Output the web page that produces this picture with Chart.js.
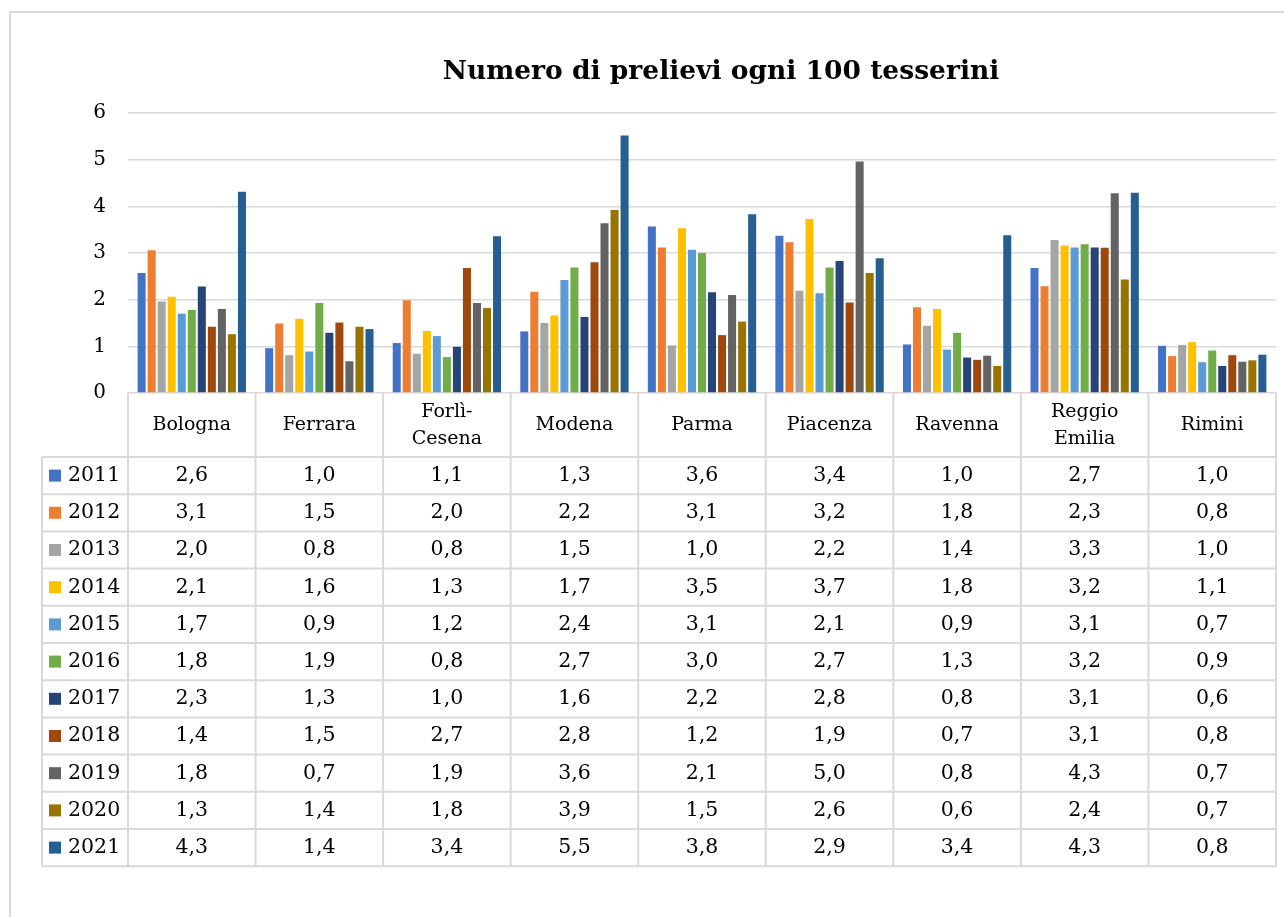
<!DOCTYPE html>
<html>
<head>
<meta charset="utf-8">
<script src="https://cdn.jsdelivr.net/npm/chart.js@4/dist/chart.umd.min.js"></script>
<style>
  html, body { margin: 0; padding: 0; background: #fff; overflow: hidden; }
  #wrap { position: relative; width: 1284px; height: 917px; }
</style>
</head>
<body>
<div id="wrap"><canvas id="chart" width="1284" height="917"></canvas></div>
<script>
const categories = ['Bologna', 'Ferrara', ['Forlì-', 'Cesena'], 'Modena', 'Parma', 'Piacenza', 'Ravenna', ['Reggio', 'Emilia'], 'Rimini'];
const years = ['2011', '2012', '2013', '2014', '2015', '2016', '2017', '2018', '2019', '2020', '2021'];
const colors = ['#4472C4', '#ED7D31', '#A5A5A5', '#FFC000', '#5B9BD5', '#70AD47', '#264478', '#9E480E', '#636363', '#997300', '#255E91'];
const yTicks = [0, 1, 2, 3, 4, 5, 6];

const v2011 = [2.57, 0.96, 1.07, 1.32, 3.57, 3.37, 1.04, 2.68, 1.01];
const v2012 = [3.06, 1.49, 1.99, 2.17, 3.12, 3.23, 1.84, 2.29, 0.79];
const v2013 = [1.96, 0.81, 0.84, 1.50, 1.02, 2.19, 1.44, 3.28, 1.03];
const v2014 = [2.06, 1.59, 1.33, 1.66, 3.53, 3.73, 1.80, 3.16, 1.09];
const v2015 = [1.70, 0.89, 1.22, 2.42, 3.07, 2.14, 0.93, 3.12, 0.66];
const v2016 = [1.78, 1.93, 0.77, 2.69, 3.00, 2.69, 1.29, 3.19, 0.91];
const v2017 = [2.28, 1.29, 0.99, 1.63, 2.16, 2.83, 0.76, 3.12, 0.58];
const v2018 = [1.42, 1.51, 2.68, 2.80, 1.24, 1.94, 0.71, 3.11, 0.81];
const v2019 = [1.80, 0.68, 1.93, 3.64, 2.10, 4.96, 0.80, 4.28, 0.67];
const v2020 = [1.26, 1.42, 1.82, 3.92, 1.53, 2.57, 0.58, 2.43, 0.70];
const v2021 = [4.31, 1.37, 3.36, 5.52, 3.83, 2.89, 3.38, 4.29, 0.82];

const series = [v2011, v2012, v2013, v2014, v2015, v2016, v2017, v2018, v2019, v2020, v2021];

const FONT = "'DejaVu Serif', serif";
const GRID = '#d9d9d9';

// frame, title and data table under the plot
const tablePlugin = {
    id: 'dataTable',
    afterDraw(chart) {
        const ctx = chart.ctx;
        const x = chart.scales.x;
        const area = chart.chartArea;
        const colW = (area.right - area.left) / categories.length;
        const headTop = area.bottom;
        const headBottom = 457;
        const rowH = 37.2;
        const tableBottom = headBottom + rowH * years.length;
        const leftX = 42;

        ctx.save();
        // outer frame
        ctx.strokeStyle = GRID;
        ctx.lineWidth = 2;
        ctx.strokeRect(10, 12, 1400, 1000);

        // title
        ctx.fillStyle = '#000';
        ctx.font = "bold 26.5px " + FONT;
        ctx.textAlign = 'center';
        ctx.textBaseline = 'middle';
        ctx.fillText('Numero di prelievi ogni 100 tesserini', 721, 72);

        // grid lines of the table
        ctx.strokeStyle = GRID;
        ctx.lineWidth = 2;
        ctx.beginPath();
        for (let i = 0; i <= categories.length; i++) {
            const cx = area.left + i * colW;
            ctx.moveTo(cx, headTop);
            ctx.lineTo(cx, tableBottom);
        }
        for (let r = 0; r <= years.length; r++) {
            const ry = headBottom + r * rowH;
            ctx.moveTo(leftX, ry);
            ctx.lineTo(area.right, ry);
        }
        ctx.moveTo(leftX, headBottom);
        ctx.lineTo(leftX, tableBottom);
        ctx.stroke();

        // header
        ctx.fillStyle = '#000';
        ctx.font = "19px " + FONT;
        categories.forEach((c, i) => {
            const cx = x.getPixelForValue(i);
            const mid = (headTop + headBottom) / 2;
            if (Array.isArray(c)) {
                ctx.fillText(c[0], cx, mid - 13);
                ctx.fillText(c[1], cx, mid + 14);
            } else {
                ctx.fillText(c, cx, mid);
            }
        });

        // rows
        ctx.font = "20.5px " + FONT;
        years.forEach((yr, r) => {
            const cy = headBottom + r * rowH + rowH / 2;
            ctx.fillStyle = colors[r];
            ctx.fillRect(49, cy - 6, 12, 12);
            ctx.fillStyle = '#000';
            ctx.textAlign = 'left';
            ctx.fillText(yr, 68, cy);
            ctx.textAlign = 'center';
            series[r].forEach((v, i) => {
                ctx.fillText(v.toFixed(1).replace('.', ','), x.getPixelForValue(i), cy);
            });
        });
        ctx.restore();
    }
};

new Chart(document.getElementById('chart'), {
    type: 'bar',
    data: {
        labels: categories.map(c => Array.isArray(c) ? c.join(' ') : c),
        datasets: years.map((yr, i) => ({
            label: yr,
            data: series[i],
            backgroundColor: colors[i],
            borderWidth: 0,
            categoryPercentage: 0.865,
            barPercentage: 0.8
        }))
    },
    options: {
        responsive: false,
        devicePixelRatio: 1,
        animation: false,
        layout: { padding: { left: 0, right: 8, top: 113, bottom: 524 } },
        plugins: {
            legend: { display: false },
            title: { display: false },
            tooltip: { enabled: false }
        },
        scales: {
            x: { display: false },
            y: {
                min: 0,
                max: 6,
                afterFit(scale) { scale.width = 128; },
                afterBuildTicks(scale) { scale.ticks = yTicks.map(v => ({ value: v })); },
                ticks: { color: '#000', font: { family: FONT, size: 20 }, padding: 22 },
                grid: { color: GRID, lineWidth: 1.5, drawTicks: false },
                border: { display: false }
            }
        }
    },
    plugins: [tablePlugin]
});
</script>
</body>
</html>
